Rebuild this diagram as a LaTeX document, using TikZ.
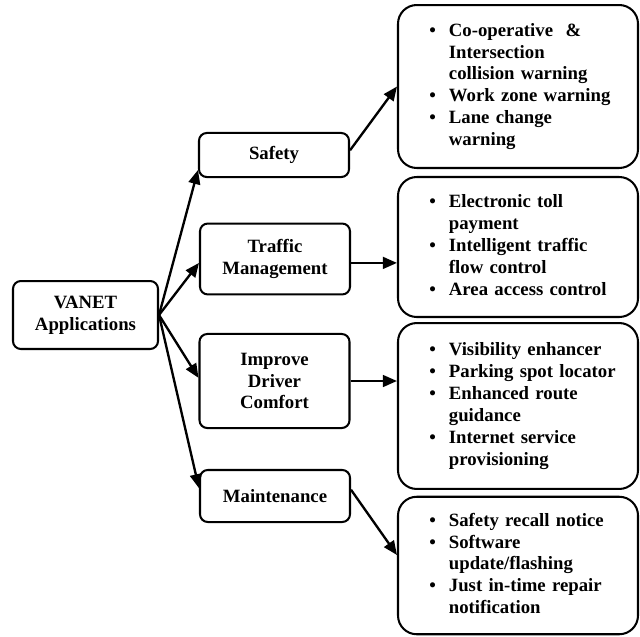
\documentclass[tikz,border=0pt]{standalone}
\usepackage{fontspec}
\setmainfont{Liberation Serif}
\usetikzlibrary{arrows.meta,positioning,calc}
\tikzset{root/.style={draw,rounded corners=5pt,line width=1.3pt,align=center,text width=88.8pt,inner xsep=2pt,minimum height=43.5pt},
 apl/.style={draw,rounded corners=5pt,line width=1.3pt,align=center,text width=92pt,inner xsep=2pt},
 lst/.style={draw,rounded corners=12pt,line width=1.3pt,text width=153.6pt,inner xsep=0pt,align=left},
 flow/.style={-{Triangle[length=9pt,width=7.5pt]},line width=1.5pt}}
\newcommand{\blist}[1]{\begin{tabular}{@{\hspace{20pt}}l@{\hspace{8.4pt}}l@{}}#1\end{tabular}}

\begin{document}
\begin{tikzpicture}[x=.64pt,y=-.64pt,font=\fontsize{12}{14}\selectfont\bfseries]
\useasboundingbox(0,0)rectangle(640,636);
\node[root](vanet) at(85.5,315){VANET\\Applications};
\node[apl,minimum height=28.2pt](safety) at(274,155){Safety};
\node[apl,minimum height=45.4pt](traffic) at(275,259){Traffic\\Management};
\node[apl,minimum height=60.2pt](comfort) at(274.5,381){Improve\\Driver\\Comfort};
\node[apl,minimum height=33.3pt](maint) at(275,496){Maintenance};
\node[lst,minimum height=104.3pt](sfl) at(518,86.5){\blist{%
 \textbullet & Co-operative\ \ \&\\ & Intersection\\ & collision warning\\
 \textbullet & Work zone warning\\
 \textbullet & Lane change\\ & warning}};
\node[lst,minimum height=89.6pt](tml) at(518,247){\blist{%
 \textbullet & Electronic toll\\ & payment\\
 \textbullet & Intelligent traffic\\ & flow control\\
 \textbullet & Area access control}};
\node[lst,minimum height=106.2pt](dcl) at(518,406){\blist{%
 \textbullet & Visibility enhancer\\
 \textbullet & Parking spot locator\\
 \textbullet & Enhanced route\\ & guidance\\
 \textbullet & Internet service\\ & provisioning}};
\node[lst,minimum height=88pt](mtl) at(518,565.5){\blist{%
 \textbullet & Safety recall notice\\
 \textbullet & Software\\ & update/flashing\\
 \textbullet & Just in-time repair\\ & notification}};
% root to categories
\foreach \n/\s in {safety/-9.6pt,traffic/-2.5pt,comfort/2pt,maint/5pt}
 \draw[flow](vanet.east)--([yshift=\s]\n.west);
% categories to lists
\draw[flow]([yshift=3pt]safety.east)--(sfl.west);
\draw[flow]([yshift=-2.5pt]traffic.east)--([yshift=-2.5pt]traffic.east -| tml.west);
\draw[flow](comfort.east)--(comfort.east -| dcl.west);
\draw[flow]([yshift=4pt]maint.east)--([yshift=6.7pt]mtl.west);
\end{tikzpicture}
\end{document}
